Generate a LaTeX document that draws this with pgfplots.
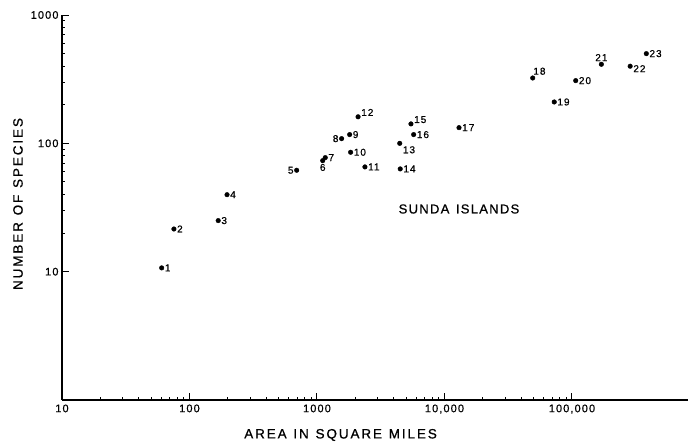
\documentclass[border=0pt]{standalone}
\usepackage{pgfplots}
\pgfplotsset{compat=1.18}
\usepackage{fontspec}
\setmainfont{Liberation Sans}
\newfontfamily\lsp[LetterSpace=10, FakeBold=0.6]{Liberation Sans}
\newfontfamily\lspw[LetterSpace=14, FakeBold=0.8]{Liberation Sans}
\newfontfamily\lspt[LetterSpace=10, FakeBold=0.8]{Liberation Sans}

\pgfplotsset{
  isl/.style={only marks, mark=*, mark size=2.3bp, black,
    point meta=explicit symbolic, nodes near coords,
    every node near coord/.append style={anchor=#1, font=\lsp\fontsize{10bp}{11bp}\selectfont, inner sep=3bp, black}},
}

\begin{document}
\begin{tikzpicture}
\begin{axis}[
  at={(0,0)}, anchor=south west,
  scale only axis, width=626bp, height=385bp,
  xmode=log, ymode=log,
  xmin=10, xmax=813000, ymin=1, ymax=1000,
  axis x line=bottom, axis y line=left,
  axis line style={-, line width=1.2pt, black},
  tick align=inside,
  xtick={10,100,1000,10000,100000},
  xticklabels={10,100,1000,{10,000},{100,000}},
  ytick={10,100,1000},
  yticklabels={10,100,1000},
  minor xtick={}, minor ytick={},
  major tick length=7bp,
  tick style={line width=1pt, black},
  ticklabel style={font=\lsp\fontsize{11bp}{12bp}\selectfont},
  xticklabel style={yshift=-1bp},
  clip=false,
]
\addplot[isl=180] coordinates {
  (60.5,10.7) [1] (75.5,21.5) [2] (168,25) [3] (197,39.8) [4]
  (1161,77.4) [7] (1804,117) [9] (1836,85.2) [10] (2377,65.5) [11]
  (4497,63.2) [14] (5730,117) [16] (13000,132.5) [17] (72600,210) [19]
  (107000,308) [20] (383000,500) [23]
};
\addplot[isl=0] coordinates {(693,61.7) [5] (1560,108.8) [8]};
\addplot[isl=90] coordinates {(1109,73.3) [6]};
\addplot[isl=205] coordinates {(2100,161) [12] (5459,141.7) [15]};
\addplot[isl=145] coordinates {(4457,100) [13]};
\addplot[isl=225] coordinates {(49200,323) [18]};
\addplot[isl=270] coordinates {(170000,413) [21]};
\addplot[isl=165] coordinates {(286000,399) [22]};
\pgfplotsinvokeforeach{100,1000,10000,100000}{
  \draw[line width=1pt] (axis cs:#1,1) -- ([yshift=6bp]axis cs:#1,1);
}
\pgfplotsinvokeforeach{10,100,1000}{
  \draw[line width=1pt] (axis cs:10,#1) -- ([xshift=7bp]axis cs:10,#1);
}
\node[font=\lspt\fontsize{13bp}{15bp}\selectfont] at (axis cs:13000,30.8) {SUNDA\hspace{0.5em}ISLANDS};
\node[font=\lspw\fontsize{13.5bp}{15bp}\selectfont] at ([yshift=-35bp]axis description cs:0.445,0) {AREA\hspace{0.5em}IN\hspace{0.5em}SQUARE\hspace{0.5em}MILES};
\node[font=\lspw\fontsize{13.5bp}{15bp}\selectfont, rotate=90] at ([xshift=-44bp]axis description cs:0,0.509) {NUMBER\hspace{0.5em}OF\hspace{0.5em}SPECIES};
\end{axis}
\pgfresetboundingbox
\path[use as bounding box] (-62bp,-45bp) rectangle (626bp,400bp);
\end{tikzpicture}
\end{document}
